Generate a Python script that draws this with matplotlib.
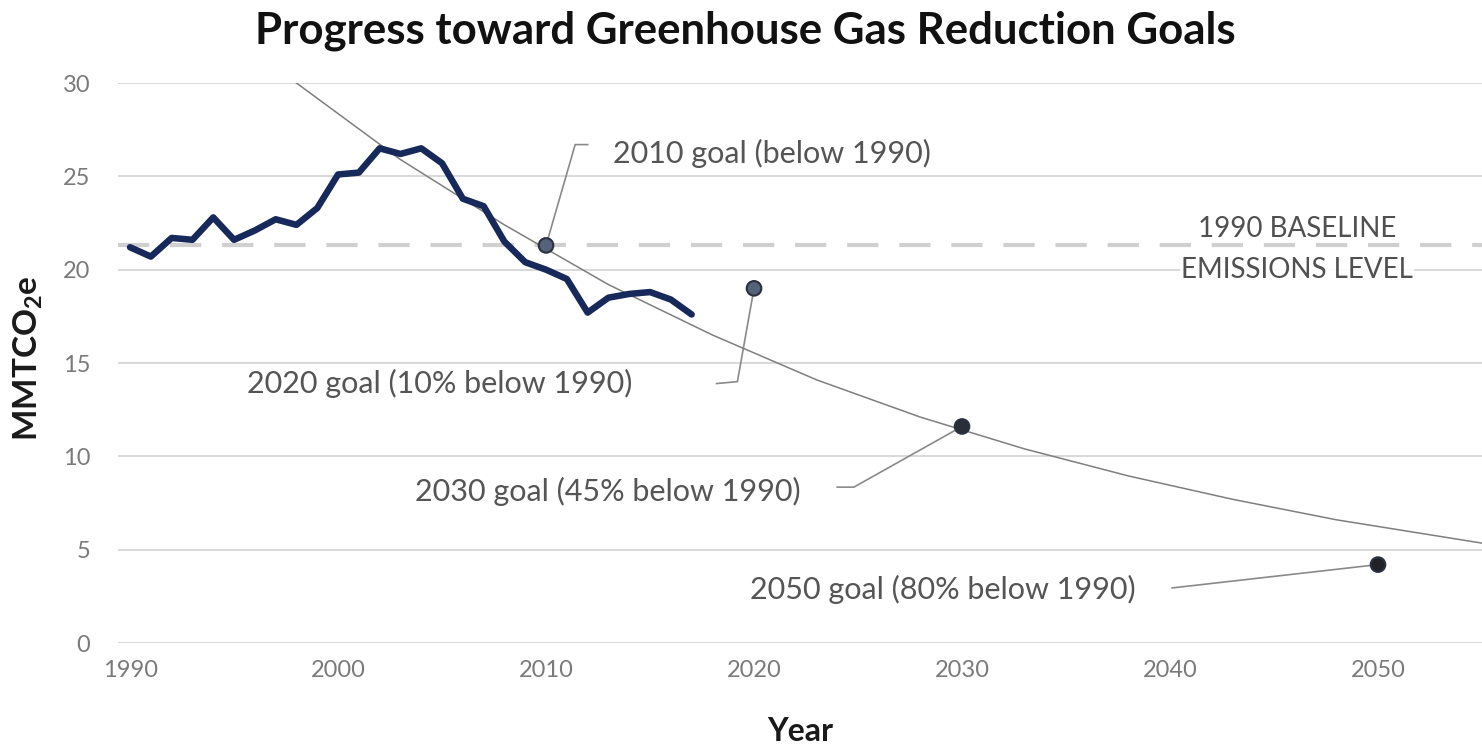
import matplotlib
matplotlib.use("Agg")
import matplotlib.pyplot as plt

plt.rcParams['font.family'] = ['Lato', 'DejaVu Sans']
plt.rcParams['mathtext.fontset'] = 'custom'
plt.rcParams['mathtext.rm'] = 'Lato'
plt.rcParams['mathtext.bf'] = 'Lato:bold'

# ---- data ----
years = [1990, 1991, 1992, 1993, 1994, 1995, 1996, 1997, 1998, 1999,
         2000, 2001, 2002, 2003, 2004, 2005, 2006, 2007, 2008, 2009,
         2010, 2011, 2012, 2013, 2014, 2015, 2016, 2017]
emissions = [21.2, 20.7, 21.7, 21.6, 22.8, 21.6, 22.1, 22.7, 22.4, 23.3,
             25.1, 25.2, 26.5, 26.2, 26.5, 25.7, 23.8, 23.4, 21.5, 20.4,
             20.0, 19.5, 17.7, 18.5, 18.7, 18.8, 18.4, 17.6]

baseline = 21.3

trend_years = [1998, 2003, 2008, 2013, 2018, 2023, 2028, 2033, 2038, 2043, 2048, 2055]
trend_values = [30.0, 25.9, 22.4, 19.2, 16.5, 14.1, 12.1, 10.4, 8.95, 7.7, 6.6, 5.35]

goal_years = [2010, 2020, 2030, 2050]
goal_values = [21.3, 19.0, 11.6, 4.2]
goal_labels = ["2010 goal (below 1990)", "2020 goal (10% below 1990)",
               "2030 goal (45% below 1990)", "2050 goal (80% below 1990)"]

y_ticks = [0, 5, 10, 15, 20, 25, 30]
x_ticks = [1990, 2000, 2010, 2020, 2030, 2040, 2050]

# ---- figure ----
W, H = 1482, 746
fig = plt.figure(figsize=(W / 100, H / 100), dpi=100)
ax = fig.add_axes([118 / W, 103 / H, (W - 118) / W, 560 / H])

ax.set_xlim(1989.42, 2055.0)
ax.set_ylim(0, 30)

for s in ax.spines.values():
    s.set_visible(False)

ax.set_yticks(y_ticks)
ax.set_xticks(x_ticks)
ax.yaxis.grid(True, color='#d9d9d9', lw=1.4, zorder=0)
ax.set_axisbelow(True)
ax.tick_params(axis='both', length=0, labelsize=17, labelcolor='#7a7a7a')
ax.tick_params(axis='y', pad=20)
ax.tick_params(axis='x', pad=12)

# baseline dashed
ax.axhline(baseline, color='#d0d0d0', lw=3, dashes=(7.5, 5), zorder=1)

# trend curve
ax.plot(trend_years, trend_values, color='#7f7f7f', lw=1.1, zorder=3)

# emissions line
ax.plot(years, emissions, color='#17285a', lw=4.7, solid_joinstyle='round',
        solid_capstyle='round', zorder=4)

# leader lines
lc = dict(color='#8a8a8a', lw=1.2, zorder=2)
ax.plot([goal_years[0], 2011.4, 2012.0], [goal_values[0], 26.7, 26.7], **lc)
ax.plot([goal_years[1], 2019.2, 2018.2], [goal_values[1], 14.0, 13.9], **lc)
ax.plot([goal_years[2], 2024.8, 2024.0], [goal_values[2], 8.35, 8.35], **lc)
ax.plot([goal_years[3], 2040.1], [goal_values[3], 2.95], **lc)

# goal markers
ax.scatter(goal_years, goal_values, s=110,
           c=['#55637a', '#55637a', '#2a2e36', '#202226'],
           edgecolors='#2a3040', linewidths=1.5, zorder=6)

# goal texts
tc = dict(fontsize=22, color='#555555', va='center', ha='left', zorder=7)
ax.text(2013.2, 26.25, goal_labels[0], **tc)
ax.text(1995.6, 13.9, goal_labels[1], **tc)
ax.text(2003.7, 8.1, goal_labels[2], **tc)
ax.text(2019.8, 2.85, goal_labels[3], **tc)

# baseline label
bc = dict(fontsize=20, color='#505050', va='center', ha='center', zorder=7)
ax.text(2046.1, 22.2, "1990 BASELINE",
        bbox=dict(facecolor='white', edgecolor='none', alpha=0.6, pad=1), **bc)
ax.text(2046.1, 20.0, "EMISSIONS LEVEL",
        bbox=dict(facecolor='white', edgecolor='none', alpha=0.9, pad=1), **bc)

# axis labels and title
ax.set_xlabel("Year", fontsize=23, fontweight='bold', color='#1a1a1a', labelpad=26)
fig.text(28 / W, 1 - 358 / H, r"MMTCO$_\mathbf{2}$e", rotation=90, fontsize=24,
         fontweight='bold', color='#1a1a1a', ha='center', va='center')
fig.text(0.503, 1 - 31 / H, "Progress toward Greenhouse Gas Reduction Goals",
         fontsize=31.5, fontweight='bold', color='#111111', ha='center', va='center')

fig.savefig("out.png", dpi=100, facecolor='white')
